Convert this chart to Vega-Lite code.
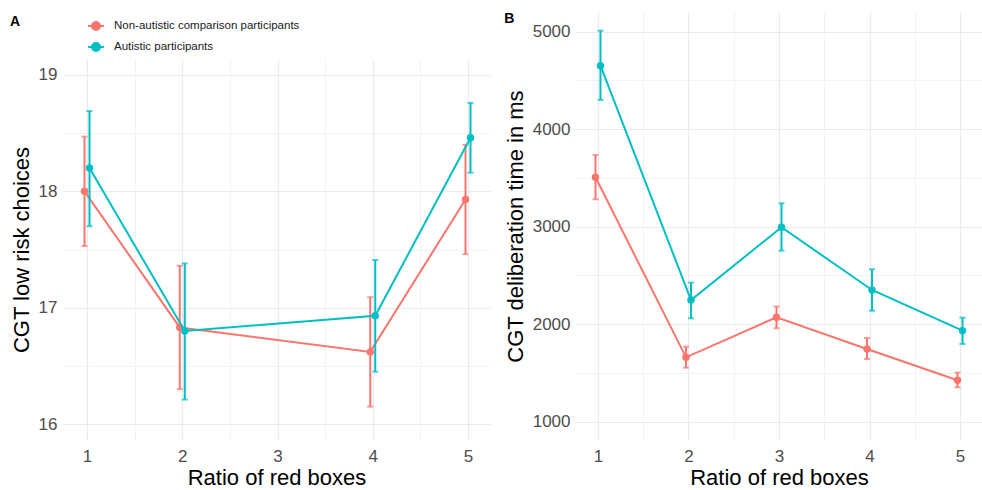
{
  "$schema": "https://vega.github.io/schema/vega-lite/v6.json",
  "padding": {"left": 10, "top": 12, "right": 0, "bottom": 0},
  "background": "white",
  "datasets": {
    "A": [
      {"group": "Non-autistic comparison participants", "ratio": 1, "mean": 18.00, "lo": 17.53, "hi": 18.47},
      {"group": "Non-autistic comparison participants", "ratio": 2, "mean": 16.83, "lo": 16.30, "hi": 17.36},
      {"group": "Non-autistic comparison participants", "ratio": 4, "mean": 16.62, "lo": 16.15, "hi": 17.09},
      {"group": "Non-autistic comparison participants", "ratio": 5, "mean": 17.93, "lo": 17.46, "hi": 18.40},
      {"group": "Autistic participants", "ratio": 1, "mean": 18.20, "lo": 17.70, "hi": 18.69},
      {"group": "Autistic participants", "ratio": 2, "mean": 16.80, "lo": 16.21, "hi": 17.38},
      {"group": "Autistic participants", "ratio": 4, "mean": 16.93, "lo": 16.45, "hi": 17.41},
      {"group": "Autistic participants", "ratio": 5, "mean": 18.46, "lo": 18.16, "hi": 18.76}
    ],
    "B": [
      {"group": "Non-autistic comparison participants", "ratio": 1, "mean": 3507, "lo": 3281, "hi": 3735},
      {"group": "Non-autistic comparison participants", "ratio": 2, "mean": 1660, "lo": 1554, "hi": 1769},
      {"group": "Non-autistic comparison participants", "ratio": 3, "mean": 2071, "lo": 1958, "hi": 2180},
      {"group": "Non-autistic comparison participants", "ratio": 4, "mean": 1746, "lo": 1643, "hi": 1858},
      {"group": "Non-autistic comparison participants", "ratio": 5, "mean": 1425, "lo": 1353, "hi": 1503},
      {"group": "Autistic participants", "ratio": 1, "mean": 4651, "lo": 4300, "hi": 5010},
      {"group": "Autistic participants", "ratio": 2, "mean": 2248, "lo": 2060, "hi": 2426},
      {"group": "Autistic participants", "ratio": 3, "mean": 2994, "lo": 2754, "hi": 3240},
      {"group": "Autistic participants", "ratio": 4, "mean": 2351, "lo": 2138, "hi": 2563},
      {"group": "Autistic participants", "ratio": 5, "mean": 1934, "lo": 1797, "hi": 2067}
    ]
  },
  "hconcat": [
    {
      "vconcat": [
        {"width": 427, "height": 1, "data": {"values": []}, "mark": {"type": "point", "opacity": 0}},
        {
          "width": 427,
          "height": 381,
          "title": {"text": "A", "anchor": "start", "frame": "bounds", "fontSize": 14, "fontWeight": "bold", "color": "#000000", "offset": -12},
          "data": {"name": "A"},
          "encoding": {
            "x": {"field": "ratio", "type": "quantitative", "title": "Ratio of red boxes",
              "scale": {"domain": [0.748, 5.231], "nice": false, "zero": false},
              "axis": {"values": [1, 1.5, 2, 2.5, 3, 3.5, 4, 4.5, 5], "labelExpr": "datum.value % 1 ? '' : format(datum.value, 'd')",
                "gridWidth": {"condition": {"test": "datum.value % 1 !== 0", "value": 0.6}, "value": 1.2}}},
            "color": {"field": "group", "type": "nominal",
              "scale": {"domain": ["Non-autistic comparison participants", "Autistic participants"], "range": ["#F8766D", "#00BFC4"]},
              "legend": {"orient": "none", "legendX": 24, "legendY": -42, "title": null, "direction": "vertical",
                "symbolType": "M-1,0L1,0M-0.5,0A0.5,0.5,0,1,1,0.5,0A0.5,0.5,0,1,1,-0.5,0Z",
                "symbolSize": 256, "symbolStrokeWidth": 2, "labelFontSize": 11.5, "labelColor": "#1A1A1A", "labelLimit": 400,
                "labelOffset": 9, "rowPadding": 4, "padding": 0,
                "encode": {"symbols": {"update": {
                  "fill": {"signal": "datum.value === 'Autistic participants' ? '#00BFC4' : '#F8766D'"},
                  "stroke": {"signal": "datum.value === 'Autistic participants' ? '#00BFC4' : '#F8766D'"},
                  "opacity": {"value": 1}}}}}}
          },
          "layer": [
            {
              "transform": [{"filter": "datum.group === 'Non-autistic comparison participants'"}],
              "layer": [
                {"mark": {"type": "line", "strokeWidth": 2, "xOffset": -2.5},
                  "encoding": {"y": {"field": "mean", "type": "quantitative", "title": "CGT low risk choices", "scale": {"domain": [15.8625, 19.1375], "nice": false, "zero": false},
                    "axis": {"values": [16, 16.5, 17, 17.5, 18, 18.5, 19], "labelExpr": "datum.value % 1 ? '' : format(datum.value, 'd')",
                      "gridWidth": {"condition": {"test": "datum.value % 1 !== 0", "value": 0.6}, "value": 1.2}}}}},
                {"mark": {"type": "rule", "strokeWidth": 2, "xOffset": -2.5},
                  "encoding": {"y": {"field": "lo", "type": "quantitative", "title": "CGT low risk choices", "scale": {"domain": [15.8625, 19.1375], "nice": false, "zero": false}}, "y2": {"field": "hi"}}},
                {"transform": [{"fold": ["lo", "hi"], "as": ["bound", "yv"]}],
                  "mark": {"type": "tick", "orient": "horizontal", "size": 6, "thickness": 2, "xOffset": -2.5},
                  "encoding": {"y": {"field": "yv", "type": "quantitative", "title": "CGT low risk choices", "scale": {"domain": [15.8625, 19.1375], "nice": false, "zero": false}}}},
                {"mark": {"type": "point", "filled": true, "size": 55, "opacity": 1, "xOffset": -2.5},
                  "encoding": {"y": {"field": "mean", "type": "quantitative", "title": "CGT low risk choices", "scale": {"domain": [15.8625, 19.1375], "nice": false, "zero": false}}}}
              ]
            },
            {
              "transform": [{"filter": "datum.group === 'Autistic participants'"}],
              "layer": [
                {"mark": {"type": "line", "strokeWidth": 2, "xOffset": 2.5},
                  "encoding": {"y": {"field": "mean", "type": "quantitative", "title": "CGT low risk choices", "scale": {"domain": [15.8625, 19.1375], "nice": false, "zero": false}}}},
                {"mark": {"type": "rule", "strokeWidth": 2, "xOffset": 2.5},
                  "encoding": {"y": {"field": "lo", "type": "quantitative", "title": "CGT low risk choices", "scale": {"domain": [15.8625, 19.1375], "nice": false, "zero": false}}, "y2": {"field": "hi"}}},
                {"transform": [{"fold": ["lo", "hi"], "as": ["bound", "yv"]}],
                  "mark": {"type": "tick", "orient": "horizontal", "size": 6, "thickness": 2, "xOffset": 2.5},
                  "encoding": {"y": {"field": "yv", "type": "quantitative", "title": "CGT low risk choices", "scale": {"domain": [15.8625, 19.1375], "nice": false, "zero": false}}}},
                {"mark": {"type": "point", "filled": true, "size": 55, "opacity": 1, "xOffset": 2.5},
                  "encoding": {"y": {"field": "mean", "type": "quantitative", "title": "CGT low risk choices", "scale": {"domain": [15.8625, 19.1375], "nice": false, "zero": false}}}}
              ]
            }
          ]
        }
      ],
      "spacing": 46,
      "bounds": "flush",
      "resolve": {"scale": {"color": "independent"}, "legend": {"color": "independent"}}
    },
    {
      "width": 406,
      "height": 428,
      "title": {"text": "B", "anchor": "start", "frame": "bounds", "fontSize": 14, "fontWeight": "bold", "color": "#000000", "offset": -14},
      "data": {"name": "B"},
      "encoding": {
        "x": {"field": "ratio", "type": "quantitative", "title": "Ratio of red boxes",
          "scale": {"domain": [0.757, 5.243], "nice": false, "zero": false},
          "axis": {"values": [1, 1.5, 2, 2.5, 3, 3.5, 4, 4.5, 5], "labelExpr": "datum.value % 1 ? '' : format(datum.value, 'd')",
            "gridWidth": {"condition": {"test": "datum.value % 1 !== 0", "value": 0.6}, "value": 1.2}}},
        "color": {"field": "group", "type": "nominal",
          "scale": {"domain": ["Non-autistic comparison participants", "Autistic participants"], "range": ["#F8766D", "#00BFC4"]},
          "legend": null}
      },
      "layer": [
        {
          "transform": [{"filter": "datum.group === 'Non-autistic comparison participants'"}],
          "layer": [
            {"mark": {"type": "line", "strokeWidth": 2, "xOffset": -2.5},
              "encoding": {"y": {"field": "mean", "type": "quantitative", "title": "CGT deliberation time in ms", "scale": {"domain": [812, 5202], "nice": false, "zero": false},
                "axis": {"values": [1000, 1500, 2000, 2500, 3000, 3500, 4000, 4500, 5000], "labelExpr": "datum.value % 1000 ? '' : format(datum.value, 'd')",
                  "gridWidth": {"condition": {"test": "datum.value % 1000 !== 0", "value": 0.6}, "value": 1.2}}}}},
            {"mark": {"type": "rule", "strokeWidth": 2, "xOffset": -2.5},
              "encoding": {"y": {"field": "lo", "type": "quantitative", "title": "CGT deliberation time in ms", "scale": {"domain": [812, 5202], "nice": false, "zero": false}}, "y2": {"field": "hi"}}},
            {"transform": [{"fold": ["lo", "hi"], "as": ["bound", "yv"]}],
              "mark": {"type": "tick", "orient": "horizontal", "size": 6, "thickness": 2, "xOffset": -2.5},
              "encoding": {"y": {"field": "yv", "type": "quantitative", "title": "CGT deliberation time in ms", "scale": {"domain": [812, 5202], "nice": false, "zero": false}}}},
            {"mark": {"type": "point", "filled": true, "size": 55, "opacity": 1, "xOffset": -2.5},
              "encoding": {"y": {"field": "mean", "type": "quantitative", "title": "CGT deliberation time in ms", "scale": {"domain": [812, 5202], "nice": false, "zero": false}}}}
          ]
        },
        {
          "transform": [{"filter": "datum.group === 'Autistic participants'"}],
          "layer": [
            {"mark": {"type": "line", "strokeWidth": 2, "xOffset": 2.5},
              "encoding": {"y": {"field": "mean", "type": "quantitative", "title": "CGT deliberation time in ms", "scale": {"domain": [812, 5202], "nice": false, "zero": false}}}},
            {"mark": {"type": "rule", "strokeWidth": 2, "xOffset": 2.5},
              "encoding": {"y": {"field": "lo", "type": "quantitative", "title": "CGT deliberation time in ms", "scale": {"domain": [812, 5202], "nice": false, "zero": false}}, "y2": {"field": "hi"}}},
            {"transform": [{"fold": ["lo", "hi"], "as": ["bound", "yv"]}],
              "mark": {"type": "tick", "orient": "horizontal", "size": 6, "thickness": 2, "xOffset": 2.5},
              "encoding": {"y": {"field": "yv", "type": "quantitative", "title": "CGT deliberation time in ms", "scale": {"domain": [812, 5202], "nice": false, "zero": false}}}},
            {"mark": {"type": "point", "filled": true, "size": 55, "opacity": 1, "xOffset": 2.5},
              "encoding": {"y": {"field": "mean", "type": "quantitative", "title": "CGT deliberation time in ms", "scale": {"domain": [812, 5202], "nice": false, "zero": false}}}}
          ]
        }
      ]
    }
  ],
  "spacing": 513,
  "bounds": "flush",
  "resolve": {"scale": {"color": "independent"}, "legend": {"color": "independent"}},
  "config": {
    "view": {"stroke": null},
    "font": "Liberation Sans",
    "axis": {"domain": false, "ticks": false, "gridColor": "#EBEBEB", "labelColor": "#4D4D4D", "labelFontSize": 17,
      "titleFontSize": 22, "titleFontWeight": "normal", "titleColor": "#000000", "labelPadding": 6, "titlePadding": 5,
      "labelFlush": false, "labelOverlap": false, "labelBound": false},
    "axisX": {"labelPadding": 8, "titlePadding": 3}
  }
}
